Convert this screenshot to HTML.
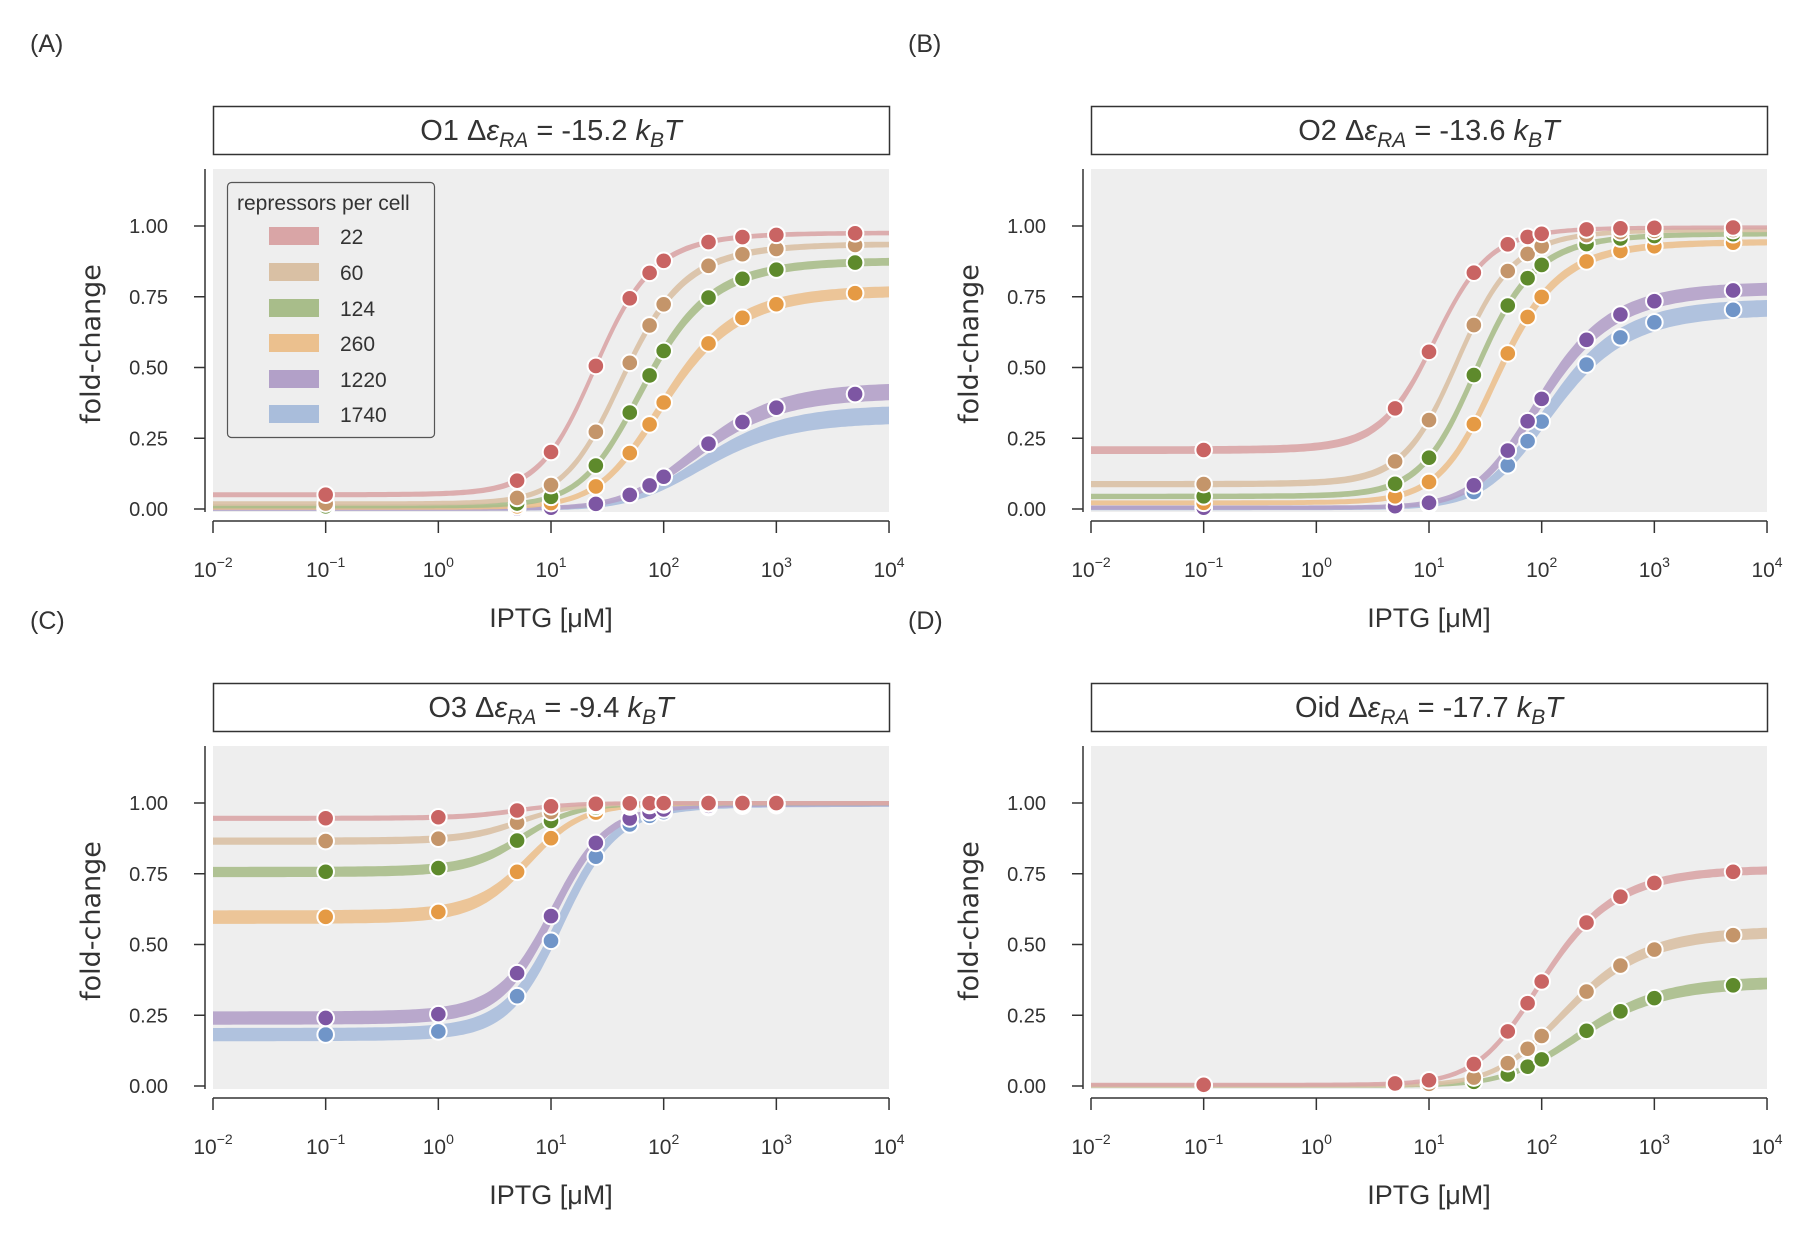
<!DOCTYPE html>
<html><head><meta charset="utf-8"><style>
html,body{margin:0;padding:0;background:#fff;}
svg{display:block;}
text{font-family:"Liberation Sans",sans-serif;fill:#333;}
</style></head><body>
<svg id="s" width="1815" height="1239" xmlns="http://www.w3.org/2000/svg"></svg>
<script>
const S=document.getElementById('s');let h='';
const KA=139,KI=0.53,EAI=4.5,NNS=4.6e6;
function fc(c,R,e){const a=Math.pow(1+c/KA,2),b=Math.exp(-EAI)*Math.pow(1+c/KI,2);const p=a/(a+b);return 1/(1+p*R/NNS*Math.exp(-e));}
const Rs=[22,60,124,260,1220,1740];
const pc=['#c96463','#c4956a','#5e8a2c','#e59a44','#7d56a3','#7095c8'];
const bc=['#d9a5a6','#d9c0a4','#a8bd8a','#ebc08e','#b2a0c8','#a9bddb'];
const bw=[0.04,0.05,0.06,0.07,0.09,0.11];
const panels=[
 {ox:0,oy:0,op:'O1',e:-15.2,lab:'(A)',n:6,cs:[0.1,5,10,25,50,75,100,250,500,1000,5000]},
 {ox:878,oy:0,op:'O2',e:-13.6,lab:'(B)',n:6,cs:[0.1,5,10,25,50,75,100,250,500,1000,5000]},
 {ox:0,oy:577,op:'O3',e:-9.4,lab:'(C)',n:6,cs:[0.1,1,5,10,25,50,75,100,250,500,1000]},
 {ox:878,oy:577,op:'Oid',e:-17.7,lab:'(D)',n:3,cs:[0.1,5,10,25,50,75,100,250,500,1000,5000]}];
const sup=['−2','−1','0','1','2','3','4'];
panels.forEach(P=>{
 const X=c=>P.ox+213+(Math.log10(c)+2)*112.67, Y=v=>P.oy+509-v*283;
 h+=`<text x="${P.ox+30}" y="${P.oy+52}" font-size="25">${P.lab}</text>`;
 h+=`<rect x="${P.ox+213.5}" y="${P.oy+106.5}" width="676" height="48" fill="#fff" stroke="#333" stroke-width="1.5"/>`;
 h+=`<text x="${P.ox+551}" y="${P.oy+140}" font-size="29" text-anchor="middle">${P.op} Δ<tspan font-style="italic">ε</tspan><tspan font-style="italic" font-size="21" dy="7">RA</tspan><tspan dy="-7"> = ${P.e} </tspan><tspan font-style="italic">k</tspan><tspan font-style="italic" font-size="21" dy="7">B</tspan><tspan font-style="italic" dy="-7">T</tspan></text>`;
 h+=`<rect x="${P.ox+213}" y="${P.oy+169}" width="676" height="343" fill="#eeeeee"/>`;
 h+=`<line x1="${P.ox+205}" y1="${P.oy+169}" x2="${P.ox+205}" y2="${P.oy+512}" stroke="#333" stroke-width="1.5"/>`;
 [0,0.25,0.5,0.75,1].forEach(v=>{h+=`<line x1="${P.ox+194}" x2="${P.ox+205}" y1="${Y(v)}" y2="${Y(v)}" stroke="#333" stroke-width="1.5"/><text x="${P.ox+168}" y="${Y(v)+7}" font-size="20" text-anchor="end">${v.toFixed(2)}</text>`;});
 h+=`<line x1="${P.ox+213}" x2="${P.ox+889}" y1="${P.oy+521}" y2="${P.oy+521}" stroke="#333" stroke-width="1.5"/>`;
 for(let k=0;k<7;k++){const x=P.ox+213+k*112.67;h+=`<line x1="${x}" x2="${x}" y1="${P.oy+521}" y2="${P.oy+533}" stroke="#333" stroke-width="1.5"/><text x="${x}" y="${P.oy+577}" font-size="21" text-anchor="middle">10<tspan font-size="14" dy="-10">${sup[k]}</tspan></text>`;}
 h+=`<text x="${P.ox+551}" y="${P.oy+627}" font-size="27" text-anchor="middle">IPTG [μM]</text>`;
 h+=`<text transform="translate(${P.ox+100},${P.oy+344}) rotate(-90)" font-size="27" text-anchor="middle" style="font-family:'DejaVu Sans',sans-serif">fold-change</text>`;
 for(let i=P.n-1;i>=0;i--){
  let up=[],lo=[];
  for(let j=0;j<=200;j++){const c=Math.pow(10,-2+6*j/200);const a=fc(c,Rs[i],P.e+bw[i]),b=fc(c,Rs[i],P.e-bw[i]);
   const y1=Y(Math.max(a,b))-2,y2=Y(Math.min(a,b))+2;up.push(X(c).toFixed(1)+','+y1.toFixed(1));lo.unshift(X(c).toFixed(1)+','+y2.toFixed(1));}
  h+=`<polygon points="${up.concat(lo).join(' ')}" fill="${bc[i]}" opacity="0.9"/>`;
 }
 for(let i=P.n-1;i>=0;i--){
  P.cs.forEach(c=>{let R=Rs[i];if(P.op=='O1'&&i==5)R=1220;const v=fc(c,R,P.e);
   h+=`<circle cx="${X(c)}" cy="${Y(v)}" r="8.3" fill="${pc[i]}" stroke="#fff" stroke-width="2"/>`;});
 }
 if(P.op=='O1'){
  h+=`<rect x="227.5" y="182.5" width="207" height="255" rx="4" fill="#eeeeee" stroke="#555" stroke-width="1.2"/>`;
  h+=`<text x="237" y="210" font-size="21">repressors per cell</text>`;
  const ys=[236,272,308,343,379,414];
  Rs.forEach((R,i)=>{h+=`<rect x="269" y="${ys[i]-9}" width="50" height="18" fill="${bc[i]}"/><text x="340" y="${ys[i]+8}" font-size="21">${R}</text>`;});
 }
});
S.innerHTML=h;
</script>
</body></html>
